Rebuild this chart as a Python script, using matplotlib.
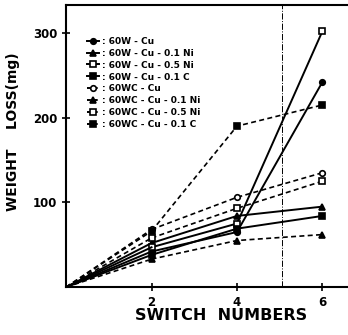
import matplotlib
matplotlib.use("Agg")
import matplotlib.pyplot as plt
from matplotlib.lines import Line2D

# switch numbers and weight loss (mg)
switches = [0, 2, 4, 6]
w_cu = [0, 42, 65, 242]
w_cu_01ni = [0, 52, 84, 95]
w_cu_05ni = [0, 47, 75, 302]
w_cu_01c = [0, 38, 69, 84]
wc_cu = [0, 68, 106, 135]
wc_cu_01ni = [0, 33, 55, 62]
wc_cu_05ni = [0, 58, 93, 125]
wc_cu_01c = [0, 66, 190, 215]

labels = [": 60W - Cu", ": 60W - Cu - 0.1 Ni", ": 60W - Cu - 0.5 Ni", ": 60W - Cu - 0.1 C",
          ": 60WC - Cu", ": 60WC - Cu - 0.1 Ni", ": 60WC - Cu - 0.5 Ni", ": 60WC - Cu - 0.1 C"]
series = [w_cu, w_cu_01ni, w_cu_05ni, w_cu_01c, wc_cu, wc_cu_01ni, wc_cu_05ni, wc_cu_01c]
markers = ['o', '^', 's', 's', 'o', '^', 's', 's']
filled = [True, True, False, True, False, True, False, True]
styles = ['-'] * 4 + ['--'] * 4

fig = plt.figure(figsize=(3.48, 3.35), dpi=100)
ax = fig.add_axes([0.19, 0.143, 0.81, 0.842])

for ys, m, f, ls in zip(series, markers, filled, styles):
    ax.plot(switches[1:], ys[1:], ls=ls, color='black', lw=1.4 if ls == '-' else 1.2,
            marker=m, ms=4, mfc='black' if f else 'white', mec='black', mew=1.2,
            dashes=(3, 2) if ls == '--' else (None, None))
    ax.plot(switches[:2], ys[:2], ls=ls, color='black', lw=1.4 if ls == '-' else 1.2,
            dashes=(3, 2) if ls == '--' else (None, None))

# faint dash-dot guide seen on the scan
ax.axvline(5.06, color='black', lw=0.7, ls='-.')

ax.set_xlim(0, 6.6)
ax.set_ylim(0, 333)
ax.set_xticks([2, 4, 6])
ax.set_yticks([100, 200, 300])
ax.tick_params(direction='inout', length=6, width=1.2, labelsize=8.5)
for t in ax.get_xticklabels() + ax.get_yticklabels():
    t.set_fontweight('bold')
ax.spines['right'].set_visible(False)
for s in ['left', 'bottom', 'top']:
    ax.spines[s].set_linewidth(1.5)

ax.set_xlabel("SWITCH  NUMBERS", fontsize=11.5, fontweight='bold')
ax.xaxis.set_label_coords(0.55, -0.075)
ax.set_ylabel("WEIGHT    LOSS(mg)", fontsize=10, fontweight='bold')
ax.yaxis.set_label_coords(-0.165, 0.55)

handles = []
for m, f, ls in zip(markers, filled, styles):
    handles.append(Line2D([], [], ls=ls, color='black', lw=1.4, marker=m, ms=4,
                          mfc='black' if f else 'white', mec='black', mew=1.2,
                          dashes=(2, 1.5) if ls == '--' else (None, None)))
leg = ax.legend(handles, labels, loc='upper left', bbox_to_anchor=(0.06, 0.9),
                frameon=False, handlelength=1.4, handletextpad=0.3, labelspacing=0.32,
                borderaxespad=0, prop={'size': 6.5, 'weight': 'bold'})

fig.savefig("out.png", dpi=100)
